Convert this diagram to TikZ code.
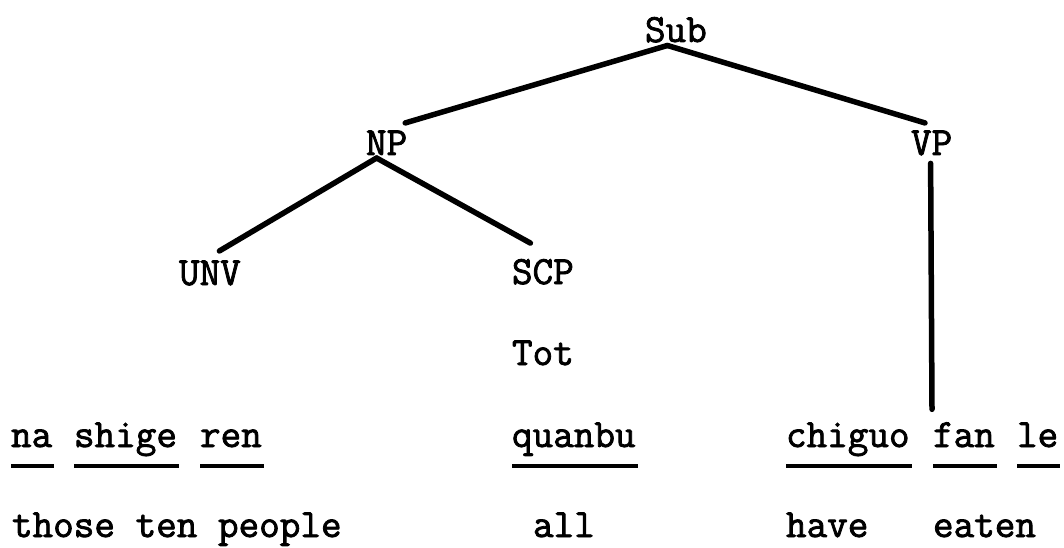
\documentclass[tikz,border=0pt]{standalone}
\usepackage{fontspec}
\newfontfamily\twfont{Latin Modern Mono}[FakeBold=2]
\begin{document}
\begin{tikzpicture}[x=1pt,y=-1pt,
  lbl/.style={inner sep=0pt, outer sep=0pt, anchor=base west, font=\twfont\fontsize{40}{48}\selectfont},
  tree/.style={line width=5.5pt, line cap=round},
  uline/.style={line width=3.2pt}]
\useasboundingbox (0,0) rectangle (1064,548);
% tree labels
\node[lbl] (Sub) at (645,42) {Sub};
\node[lbl] (NP) at (366,155) {NP};
\node[lbl] (VP) at (911,155) {VP};
\node[lbl] (UNV) at (179,285) {UNV};
\node[lbl] (SCP) at (512,284) {SCP};
\node[lbl] (Tot) at (512,365) {Tot};
% words
\node[lbl] (na) at (11,447) {na};
\node[lbl] (shige) at (74,447) {shige};
\node[lbl] (ren) at (200,447) {ren};
\node[lbl] (quanbu) at (512,447) {quanbu};
\node[lbl] (chiguo) at (786,447) {chiguo};
\node[lbl] (fan) at (933,447) {fan};
\node[lbl] (le) at (1017,447) {le};
% glosses
\node[lbl] (gl1) at (12,537) {those ten people};
\node[lbl] (gl2) at (533,537) {all};
\node[lbl] (gl3) at (786,537) {have};
\node[lbl] (gl4) at (933,537) {eaten};
% branches
\draw[tree] ([xshift=-8.5pt,yshift=-3pt]Sub.south) -- ([xshift=-2pt,yshift=7.6pt]NP.north east);
\draw[tree] ([xshift=-8.5pt,yshift=-3pt]Sub.south) -- ([xshift=14pt,yshift=7.6pt]VP.north west);
\draw[tree] ([xshift=-10pt,yshift=-3pt]NP.south) -- ([xshift=9.5pt,yshift=9.6pt]UNV.north);
\draw[tree] ([xshift=-10pt,yshift=-3pt]NP.south) -- ([xshift=-12.5pt,yshift=16pt]SCP.north);
\draw[tree] ([xshift=-1pt,yshift=-8pt]VP.south) -- ([xshift=-1pt,yshift=13pt]fan.north west);
% underlines
\foreach \w in {na,shige,ren,quanbu,chiguo,fan,le}{
  \draw[uline] ([xshift=0pt,yshift=-19pt]\w.base west) -- ([xshift=2pt,yshift=-19pt]\w.base east);
}
\end{tikzpicture}
\end{document}
